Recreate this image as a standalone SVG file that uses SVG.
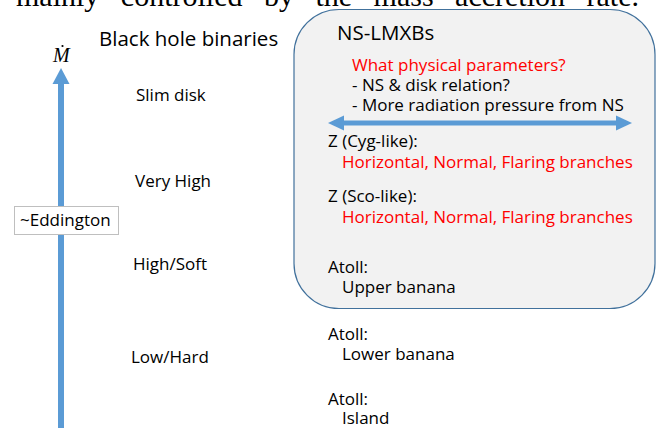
<svg xmlns="http://www.w3.org/2000/svg" width="661" height="428" viewBox="0 0 661 428">
<style>
text{font-family:"Open Sans","Liberation Sans",sans-serif;font-size:17px;fill:#000}
.red{fill:#ff0000}
.hdr{font-size:20.5px}
.arrow{fill:#5b9bd5}
</style>
<rect width="661" height="428" fill="#fff"/>
<text x="16" y="6" style="font-family:'Liberation Serif',serif;font-size:30px;word-spacing:14px">mainly controlled by the mass accretion rate.</text>
<g id="axis">
<rect x="58" y="83" width="6" height="350" class="arrow"/>
<polygon points="52.5,84 69.5,84 61,68" class="arrow"/>
<text x="53" y="62" style="font-family:'Liberation Serif',serif;font-style:italic;font-size:20px">M</text>
<circle cx="62.5" cy="46" r="1.1" fill="#000"/>
</g>
<g id="eddington">
<rect x="14.5" y="206.5" width="104" height="28" fill="#fff" stroke="#bfbfbf"/>
<text x="20" y="226">~Eddington</text>
</g>
<g id="bh">
<text x="99" y="46" class="hdr">Black hole binaries</text>
<text x="136" y="101">Slim disk</text>
<text x="135" y="187">Very High</text>
<text x="133" y="270">High/Soft</text>
<text x="131" y="363">Low/Hard</text>
</g>
<g id="ns-box">
<rect x="294" y="9.5" width="361" height="299" rx="45" ry="45" fill="#f2f2f2" stroke="#41719c" stroke-width="1.2"/>
<text x="337" y="40" class="hdr">NS-LMXBs</text>
<text x="352" y="71" class="red">What physical parameters?</text>
<text x="352" y="91">- NS &amp; disk relation?</text>
<text x="352" y="111">- More radiation pressure from NS</text>
<text x="328" y="147">Z (Cyg-like):</text>
<text x="342" y="168" class="red">Horizontal, Normal, Flaring branches</text>
<text x="328" y="202">Z (Sco-like):</text>
<text x="342" y="223" class="red">Horizontal, Normal, Flaring branches</text>
<text x="328" y="273">Atoll:</text>
<text x="342" y="293">Upper banana</text>
</g>
<g id="connectors">
<rect x="342" y="120.5" width="276" height="5" class="arrow"/>
<polygon points="328,123 344,115.5 344,130.5" class="arrow"/>
<polygon points="632,123 616,115.5 616,130.5" class="arrow"/>
</g>
<g id="atoll">
<text x="328" y="340">Atoll:</text>
<text x="342" y="360">Lower banana</text>
<text x="328" y="405">Atoll:</text>
<text x="342" y="424">Island</text>
</g>
</svg>
